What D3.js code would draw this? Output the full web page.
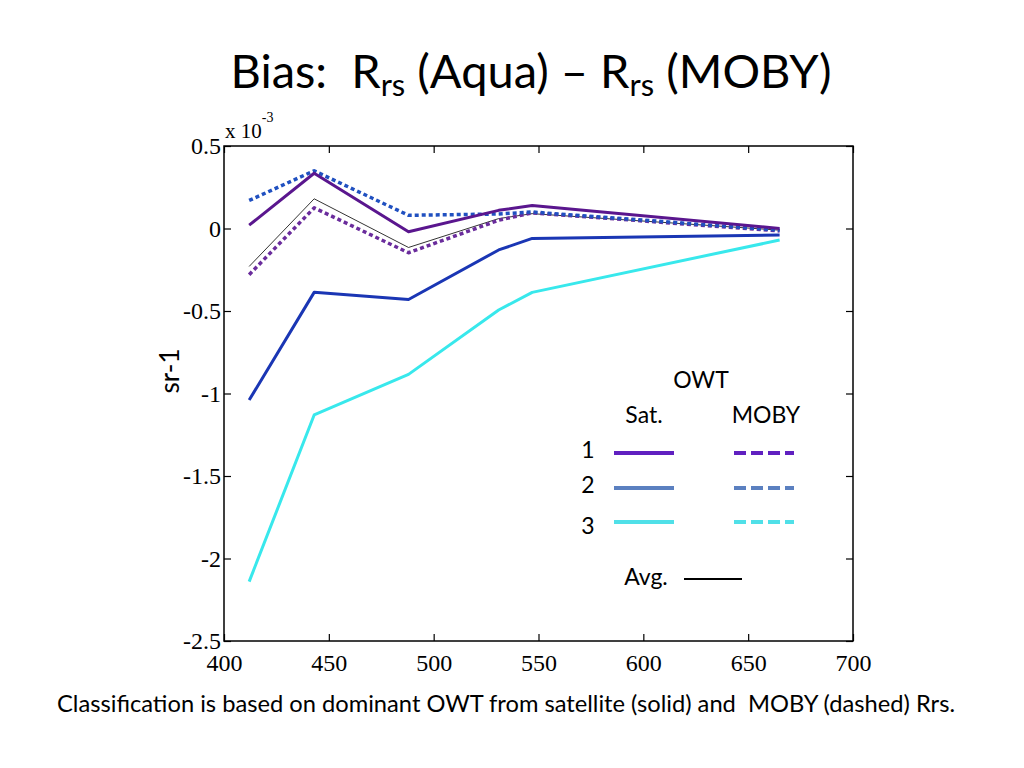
<!DOCTYPE html>
<html><head><meta charset="utf-8">
<script src="https://cdn.jsdelivr.net/npm/d3@7"></script>
<style>body{margin:0;background:#fff}</style>
</head><body>
<svg id="c" width="1024" height="768"></svg>
<script>
// Data (units of 1e-3 sr^-1)
const wavelengths = [412, 443, 488, 531, 547, 665];
const sat1  = [0.02, 0.335, -0.02, 0.11, 0.14, 0.0];
const sat2  = [-1.04, -0.387, -0.43, -0.13, -0.06, -0.04];
const sat3  = [-2.14, -1.13, -0.884, -0.494, -0.387, -0.07];
const moby1 = [-0.28, 0.125, -0.147, 0.05, 0.095, -0.015];
const moby2 = [0.17, 0.35, 0.08, 0.088, 0.10, -0.01];
const avg   = [-0.23, 0.18, -0.115, 0.06, 0.09, -0.01];
const xTicks = [400, 450, 500, 550, 600, 650, 700];
const yTicks = [0.5, 0, -0.5, -1, -1.5, -2, -2.5];
const legendRows = ["1", "2", "3"];
const legendColors = ["#6020c0", "#5b80c0", "#50e0e8"];

const svg = d3.select("#c");
const L = 224, R = 853, T = 146, B = 641;
const x = d3.scaleLinear().domain([400, 700]).range([L, R]);
const y = d3.scaleLinear().domain([-2.5, 0.5]).range([B, T]);
const serif = "Liberation Serif";
const sans = "Lato";

// Title
const title = svg.append("text").attr("x", 531).attr("y", 88).attr("text-anchor", "middle")
  .attr("xml:space", "preserve").attr("font-family", sans).attr("font-size", 47).attr("fill", "#000");
title.append("tspan").text("Bias:  R");
title.append("tspan").text("rs").attr("dy", 8).attr("font-size", 31);
title.append("tspan").text(" (Aqua) – R").attr("dy", -8);
title.append("tspan").text("rs").attr("dy", 8).attr("font-size", 31);
title.append("tspan").text(" (MOBY)").attr("dy", -8);

// Frame
svg.append("rect").attr("x", L).attr("y", T).attr("width", R - L).attr("height", B - T)
  .attr("fill", "none").attr("stroke", "#000").attr("stroke-width", 1.5);

function styleAxis(g) {
  g.attr("font-family", serif).attr("font-size", 24);
  g.select(".domain").remove();
  g.selectAll(".tick line").attr("stroke", "#000").attr("stroke-width", 1.2);
  g.selectAll(".tick text").attr("fill", "#000")
    .attr("font-family", serif).style("font-family", serif)
    .attr("font-size", 24).style("font-size", "24px");
}
const fmt = d => String(d);
svg.append("g").attr("transform", `translate(0,${B})`)
  .call(d3.axisBottom(x).tickValues(xTicks).tickFormat(fmt).tickSize(-7).tickPadding(13)).call(styleAxis);
svg.append("g").attr("transform", `translate(0,${T})`)
  .call(d3.axisTop(x).tickValues(xTicks).tickFormat("").tickSize(-7)).call(styleAxis);
svg.append("g").attr("transform", `translate(${L},0)`)
  .call(d3.axisLeft(y).tickValues(yTicks).tickFormat(fmt).tickSize(-7).tickPadding(3)).call(styleAxis);
svg.append("g").attr("transform", `translate(${R},0)`)
  .call(d3.axisRight(y).tickValues(yTicks).tickFormat("").tickSize(-7)).call(styleAxis);

// Exponent label
const ex = svg.append("text").attr("x", 225).attr("y", 138).attr("font-family", serif)
  .attr("font-size", 21).attr("fill", "#000");
ex.append("tspan").text("x 10");
ex.append("tspan").text("-3").attr("dy", -16).attr("font-size", 14);

// Y label
svg.append("text").attr("transform", "translate(179,371) rotate(-90)").attr("text-anchor", "middle")
  .attr("font-family", sans).attr("font-size", 26).attr("fill", "#000").text("sr-1");

// Lines
const line = d3.line().x((d, i) => x(wavelengths[i])).y(d => y(d));
const series = [
  {v: sat3, c: "#38e8ec", w: 3, dash: null},
  {v: sat2, c: "#1a36b4", w: 3, dash: null},
  {v: avg, c: "#000", w: 0.8, dash: null},
  {v: moby1, c: "#6a2c9c", w: 3.5, dash: "4,3"},
  {v: moby2, c: "#2050c0", w: 3.5, dash: "4,3"},
  {v: sat1, c: "#5a168e", w: 3, dash: null}
];
series.forEach(s => {
  svg.append("path").attr("d", line(s.v)).attr("fill", "none").attr("stroke", s.c)
    .attr("stroke-width", s.w).attr("stroke-dasharray", s.dash).attr("stroke-linejoin", "round");
});

// Legend
const lg = svg.append("g").attr("font-family", sans).attr("font-size", 23).attr("fill", "#000");
lg.append("text").attr("x", 701).attr("y", 388).attr("text-anchor", "middle").text("OWT");
lg.append("text").attr("x", 644).attr("y", 423).attr("text-anchor", "middle").text("Sat.");
lg.append("text").attr("x", 766).attr("y", 423).attr("text-anchor", "middle").text("MOBY");
const rowY = [453, 488, 522];
const labY = [458, 493, 534];
legendRows.forEach((r, i) => {
  lg.append("text").attr("x", 588).attr("y", labY[i]).attr("text-anchor", "middle").text(r);
  lg.append("line").attr("x1", 614).attr("x2", 674).attr("y1", rowY[i]).attr("y2", rowY[i])
    .attr("stroke", legendColors[i]).attr("stroke-width", 4);
  lg.append("line").attr("x1", 734).attr("x2", 794).attr("y1", rowY[i]).attr("y2", rowY[i])
    .attr("stroke", legendColors[i]).attr("stroke-width", 4).attr("stroke-dasharray", "12,5");
});
lg.append("text").attr("x", 646).attr("y", 585).attr("text-anchor", "middle").text("Avg.");
lg.append("line").attr("x1", 684).attr("x2", 742).attr("y1", 579).attr("y2", 579).attr("stroke", "#000").attr("stroke-width", 2);

// Caption
svg.append("text").attr("x", 506).attr("y", 712).attr("text-anchor", "middle")
  .attr("xml:space", "preserve").attr("font-family", sans).attr("font-size", 24).attr("fill", "#000")
  .attr("textLength", 898).attr("lengthAdjust", "spacingAndGlyphs")
  .text("Classification is based on dominant OWT from satellite (solid) and  MOBY (dashed) Rrs.");
</script>
</body></html>
